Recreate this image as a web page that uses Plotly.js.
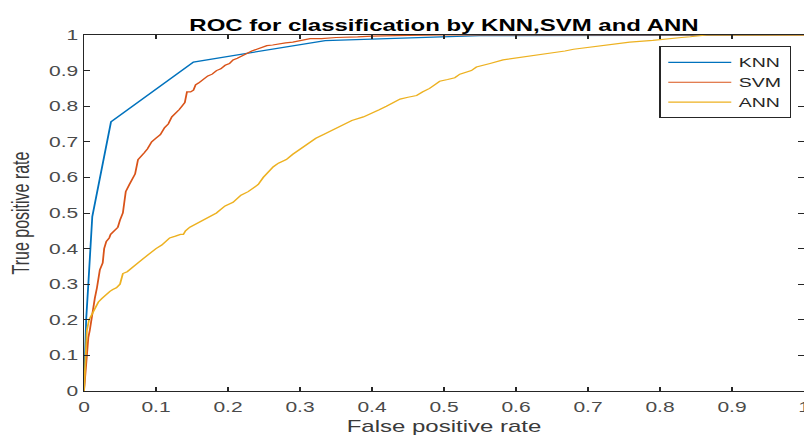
<!DOCTYPE html>
<html>
<head>
<meta charset="utf-8">
<script src="https://cdn.plot.ly/plotly-3.0.1.min.js"></script>
<style>
  html, body { margin: 0; padding: 0; background: #fff; overflow: hidden; }
  #wrap { width: 804px; height: 435px; overflow: hidden; }
  /* figure is laid out narrow and widened horizontally */
  #chart { width: 536px; height: 435px; transform: scaleX(1.5); transform-origin: 0 0; }
</style>
</head>
<body>
<div id="wrap"><div id="chart"></div></div>
<script>
// ROC operating points (false positive rate, true positive rate)
const knnFPR = [0, 0.001, 0.002, 0.003, 0.006, 0.009, 0.0115, 0.0375, 0.152, 0.335, 0.55, 1];
const knnTPR = [0, 0.08, 0.15, 0.2, 0.3, 0.4, 0.49, 0.756, 0.924, 0.984, 0.998, 1];

const svmFPR = [0, 0.002, 0.003, 0.006, 0.008, 0.01, 0.013, 0.015, 0.018, 0.02, 0.022, 0.026, 0.028, 0.031,
  0.035, 0.037, 0.043, 0.047, 0.05, 0.054, 0.056, 0.058, 0.063, 0.068, 0.071, 0.075, 0.08, 0.084, 0.088,
  0.094, 0.1, 0.106, 0.112, 0.117, 0.122, 0.128, 0.132, 0.136, 0.14, 0.143, 0.148, 0.152, 0.155, 0.159,
  0.165, 0.172, 0.178, 0.184, 0.19, 0.196, 0.202, 0.207, 0.213, 0.218, 0.226, 0.233, 0.24, 0.247, 0.254,
  0.262, 0.27, 0.28, 0.29, 0.3, 0.314, 0.33, 0.35, 0.38, 0.4, 0.45, 0.5, 1];
const svmTPR = [0, 0.06, 0.1, 0.15, 0.17, 0.2, 0.23, 0.26, 0.29, 0.31, 0.34, 0.36, 0.4, 0.42,
  0.43, 0.44, 0.45, 0.46, 0.48, 0.5, 0.53, 0.56, 0.58, 0.6, 0.61, 0.65, 0.66, 0.67, 0.68,
  0.7, 0.71, 0.72, 0.74, 0.75, 0.77, 0.78, 0.79, 0.8, 0.81, 0.84, 0.84, 0.845, 0.86, 0.865,
  0.875, 0.885, 0.89, 0.9, 0.905, 0.915, 0.92, 0.93, 0.935, 0.94, 0.95, 0.955, 0.96, 0.965, 0.97,
  0.972, 0.975, 0.978, 0.98, 0.985, 0.99, 0.99, 0.993, 0.995, 0.997, 0.999, 1, 1];

const annFPR = [0, 0.001, 0.002, 0.004, 0.007, 0.012, 0.016, 0.02, 0.025, 0.03, 0.036, 0.04, 0.045, 0.05,
  0.054, 0.06, 0.068, 0.075, 0.081, 0.087, 0.094, 0.1, 0.108, 0.114, 0.119, 0.127, 0.134, 0.138, 0.141,
  0.147, 0.156, 0.166, 0.175, 0.184, 0.19, 0.196, 0.207, 0.218, 0.228, 0.235, 0.242, 0.249, 0.256, 0.263,
  0.27, 0.281, 0.29, 0.3, 0.307, 0.314, 0.322, 0.332, 0.342, 0.35, 0.36, 0.372, 0.388, 0.4, 0.41, 0.42,
  0.43, 0.439, 0.45, 0.462, 0.47, 0.48, 0.487, 0.494, 0.505, 0.515, 0.522, 0.538, 0.545, 0.556, 0.564,
  0.582, 0.6, 0.615, 0.635, 0.652, 0.668, 0.68, 0.7, 0.726, 0.74, 0.758, 0.79, 0.81, 0.83, 0.842, 0.855,
  0.865, 0.9, 1];
const annTPR = [0, 0.05, 0.1, 0.17, 0.2, 0.22, 0.23, 0.25, 0.26, 0.27, 0.28, 0.285, 0.29, 0.3,
  0.33, 0.335, 0.35, 0.36, 0.37, 0.38, 0.39, 0.4, 0.41, 0.42, 0.43, 0.435, 0.44, 0.44, 0.45,
  0.46, 0.47, 0.48, 0.49, 0.5, 0.51, 0.52, 0.53, 0.55, 0.56, 0.57, 0.58, 0.6, 0.615, 0.63,
  0.64, 0.65, 0.665, 0.68, 0.69, 0.7, 0.71, 0.72, 0.73, 0.74, 0.75, 0.76, 0.77, 0.78, 0.79, 0.80,
  0.81, 0.82, 0.825, 0.83, 0.84, 0.85, 0.86, 0.87, 0.875, 0.88, 0.89, 0.9, 0.91, 0.915, 0.92,
  0.93, 0.935, 0.94, 0.945, 0.95, 0.955, 0.96, 0.965, 0.97, 0.975, 0.98, 0.985, 0.99, 0.993, 0.995, 0.998,
  1, 1, 1];

const seriesNames = ['KNN', 'SVM', 'ANN'];
const seriesColors = ['#0072BD', '#D95319', '#EDB120'];

const tickVals = [0, 0.1, 0.2, 0.3, 0.4, 0.5, 0.6, 0.7, 0.8, 0.9, 1];
const tickText = ['0', '0.1', '0.2', '0.3', '0.4', '0.5', '0.6', '0.7', '0.8', '0.9', '1'];

const xs = [knnFPR, svmFPR, annFPR];
const ys = [knnTPR, svmTPR, annTPR];

const traces = seriesNames.map((name, i) => ({
  type: 'scatter',
  mode: 'lines',
  name: name,
  x: xs[i],
  y: ys[i],
  line: { color: seriesColors[i], width: 1.2 },
  hoverinfo: 'x+y+name'
}));

const FONT = 'Liberation Sans, Arial, sans-serif';
const axisCommon = {
  range: [0, 1],
  tickmode: 'array',
  tickvals: tickVals,
  ticktext: tickText,
  ticks: 'inside',
  ticklen: 4,
  tickwidth: 1,
  tickcolor: '#262626',
  showline: true,
  linecolor: '#262626',
  linewidth: 1,
  mirror: 'ticks',
  showgrid: false,
  zeroline: false,
  tickfont: { family: FONT, size: 14, color: '#4a4a4a' },
  fixedrange: true
};

const layout = {
  width: 536,
  height: 435,
  margin: { l: 56, r: 0, t: 35, b: 44 },
  paper_bgcolor: '#ffffff',
  plot_bgcolor: '#ffffff',
  showlegend: true,
  title: {
    text: '<b>ROC for classification by KNN,SVM and ANN</b>',
    font: { family: FONT, size: 16, color: '#000000' },
    x: 0.5, xref: 'paper',
    y: 1, yref: 'paper', yanchor: 'bottom',
    pad: { b: 4 }
  },
  xaxis: Object.assign({}, axisCommon, {
    title: { text: 'False positive rate', font: { family: FONT, size: 16, color: '#3a3a3a' }, standoff: 7 },
    ticklabeloverflow: 'allow',
    ticklabelstandoff: 3
  }),
  yaxis: Object.assign({}, axisCommon, {
    title: { text: 'True positive rate', font: { family: FONT, size: 16, color: '#3a3a3a' }, standoff: 8 }
  }),
  legend: {
    x: 0.799, y: 0.968, xanchor: 'left', yanchor: 'top',
    bgcolor: '#ffffff',
    bordercolor: '#262626',
    borderwidth: 1,
    font: { family: FONT, size: 13, color: '#262626' },
    itemwidth: 42,
    tracegroupgap: 0
  }
};

Plotly.newPlot('chart', traces, layout, { displayModeBar: false, responsive: false, staticPlot: true });
</script>
</body>
</html>
